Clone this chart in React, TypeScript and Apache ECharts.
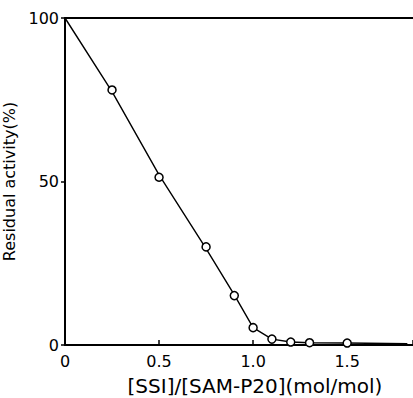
import React, { useEffect, useRef } from "react";
import * as echarts from "echarts";

const measuredX = [0.25, 0.5, 0.75, 0.9, 1.0, 1.1, 1.2, 1.3, 1.5];
const measuredY = [78, 51.3, 30, 15.1, 5.3, 1.8, 0.9, 0.7, 0.6];
const curveX = [0, 0.25, 0.5, 0.75, 0.9, 1.0, 1.1, 1.2, 1.3, 1.5, 1.82];
const curveY = [100, 77.5, 52, 29.5, 15.3, 5.3, 1.8, 0.9, 0.7, 0.6, 0.4];
const xTicks = [0, 0.5, 1.0, 1.5];
const yTicks = [0, 50, 100];

const FONT = "DejaVu Sans";

export default function App() {
  const ref = useRef<HTMLDivElement>(null);
  useEffect(() => {
    if (!ref.current) return;
    const chart = echarts.init(ref.current, null, { renderer: "svg" });
    chart.setOption({
      animation: false,
      backgroundColor: "#ffffff",
      grid: {
        left: 65,
        top: 18,
        right: 0,
        bottom: 53,
        containLabel: false,
        outerBoundsMode: "none",
      },
      xAxis: [
        {
          type: "value",
          min: 0,
          max: 1.85,
          interval: 0.5,
          name: "[SSI]/[SAM-P20](mol/mol)",
          nameLocation: "middle",
          nameGap: 31,
          nameTextStyle: { fontFamily: FONT, fontSize: 20, color: "#000", padding: [0, 0, 0, 32] },
          axisLine: { show: true, onZero: false, lineStyle: { color: "#000", width: 2 } },
          axisTick: { show: true, inside: true, length: 5, lineStyle: { color: "#000", width: 1.5 } },
          axisLabel: {
            fontFamily: FONT,
            fontSize: 16,
            color: "#000",
            margin: 8,
            formatter: (v: number) => (xTicks.includes(v) ? (v === 0 ? "0" : v.toFixed(1)) : ""),
          },
          splitLine: { show: false },
        },
        {
          type: "value",
          position: "top",
          min: 0,
          max: 1.85,
          axisLine: { show: true, onZero: false, lineStyle: { color: "#000", width: 2 } },
          axisTick: { show: false },
          axisLabel: { show: false },
          splitLine: { show: false },
        },
      ],
      yAxis: {
        type: "value",
        min: 0,
        max: 100,
        interval: 50,
        name: "Residual activity(%)",
        nameLocation: "middle",
        nameGap: 37,
        nameTextStyle: { fontFamily: FONT, fontSize: 16, color: "#000" },
        axisLine: { show: true, onZero: false, lineStyle: { color: "#000", width: 2 } },
        axisTick: { show: true, inside: false, length: 4, lineStyle: { color: "#000", width: 1.5 } },
        axisLabel: {
          fontFamily: FONT,
          fontSize: 16,
          color: "#000",
          margin: 6,
          formatter: (v: number) => (yTicks.includes(v) ? String(v) : ""),
        },
        splitLine: { show: false },
      },
      series: [
        {
          type: "line",
          data: curveX.map((x, i) => [x, curveY[i]]),
          showSymbol: false,
          symbol: "none",
          lineStyle: { color: "#000", width: 1.4 },
          z: 2,
        },
        {
          type: "scatter",
          data: measuredX.map((x, i) => [x, measuredY[i]]),
          symbol: "circle",
          symbolSize: 8,
          itemStyle: { color: "#fff", borderColor: "#000", borderWidth: 1.5, opacity: 1 },
          z: 3,
        },
      ],
    });
    return () => chart.dispose();
  }, []);
  return (
    <div
      ref={ref}
      style={{ position: "fixed", left: 0, top: 0, width: 413, height: 398 }}
    />
  );
}
